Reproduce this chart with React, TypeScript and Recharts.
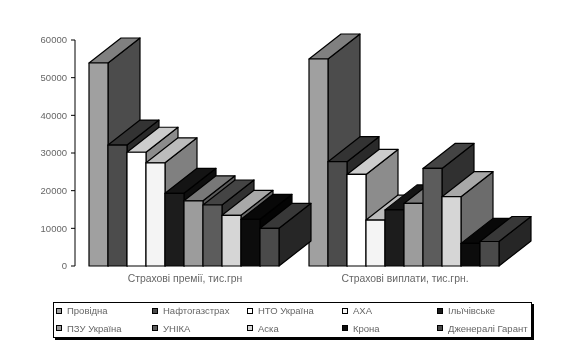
import React from 'react'
import { BarChart, Bar, XAxis, YAxis, Legend, Rectangle } from 'recharts'

const categories = ['Страхові премії, тис.грн', 'Страхові виплати, тис.грн.']
const yTicks = [0, 10000, 20000, 30000, 40000, 50000, 60000]

const companies = [
  'Провідна',
  'Нафтогазстрах',
  'НТО Україна',
  'АХА',
  'Ільїчівське',
  'ПЗУ Україна',
  'УНІКА',
  'Аска',
  'Крона',
  'Дженералі Гарант',
]

const premiums = [53900, 32100, 30200, 27400, 19300, 17300, 16200, 13450, 12400, 10000]
const payouts = [54950, 27700, 24300, 12200, 14900, 16600, 25900, 18400, 6000, 6500]

const frontColors = ['#a0a0a0', '#4c4c4c', '#ffffff', '#f4f4f4', '#1c1c1c', '#9c9c9c', '#5c5c5c', '#d6d6d6', '#0c0c0c', '#4a4a4a']
const topColors = ['#808080', '#333333', '#cccccc', '#bcbcbc', '#141414', '#787878', '#444444', '#a8a8a8', '#080808', '#383838']
const sideColors = ['#4c4c4c', '#2a2a2a', '#8c8c8c', '#808080', '#0e0e0e', '#5a5a5a', '#303030', '#6c6c6c', '#040404', '#262626']

const data = categories.map((name, i) => {
  const row: Record<string, string | number> = { name }
  companies.forEach((c, j) => {
    row[c] = i === 0 ? premiums[j] : payouts[j]
  })
  return row
})

const DEPTH_X = 32
const DEPTH_Y = 25
const FONT = 'Liberation Sans, Arial, sans-serif'

// recharts has no 3d bars, so extrude the front rectangle it hands us
function Bar3D(props: any) {
  const { x, y, width, height, colorIndex } = props
  const b = y + height
  const r = x + width
  return (
    <g stroke="#000" strokeWidth={1.2} strokeLinejoin="round">
      <polygon
        points={`${r},${y} ${r + DEPTH_X},${y - DEPTH_Y} ${r + DEPTH_X},${b - DEPTH_Y} ${r},${b}`}
        fill={sideColors[colorIndex]}
      />
      <polygon
        points={`${x},${y} ${x + DEPTH_X},${y - DEPTH_Y} ${r + DEPTH_X},${y - DEPTH_Y} ${r},${y}`}
        fill={topColors[colorIndex]}
      />
      <Rectangle x={x} y={y} width={width} height={height} fill={frontColors[colorIndex]} />
    </g>
  )
}

function ChartLegend() {
  return (
    <div
      style={{
        width: 479,
        height: 36,
        boxSizing: 'border-box',
        border: '1px solid #000',
        boxShadow: '2px 2px 0 #000',
        background: '#fff',
        display: 'grid',
        gridTemplateColumns: '96px 95px 95px 95px 96px',
        gridTemplateRows: '15px 20px',
        fontFamily: FONT,
        fontSize: 9.5,
        color: '#666',
        paddingLeft: 2,
      }}
    >
      {companies.map((c, i) => (
        <div key={c} style={{ display: 'flex', alignItems: 'center', whiteSpace: 'nowrap' }}>
          <span
            style={{
              width: 4,
              height: 4,
              border: '1px solid #000',
              background: frontColors[i],
              marginRight: 5,
              flexShrink: 0,
            }}
          />
          {c}
        </div>
      ))}
    </div>
  )
}

export default function App() {
  return (
    <div style={{ position: 'absolute', left: 0, top: 0, filter: 'blur(0.35px)' }}>
      <BarChart
        width={562}
        height={356}
        data={data}
        margin={{ top: 40, right: 47, bottom: 24, left: 30 }}
        barCategoryGap={14}
        barGap={0}
      >
        <XAxis
          dataKey="name"
          axisLine={false}
          tickLine={false}
          tickMargin={3}
          tick={{ fontSize: 10.4, fill: '#666', fontFamily: FONT }}
        />
        <YAxis
          domain={[0, 60000]}
          ticks={yTicks}
          width={45}
          tickSize={4}
          tickMargin={4}
          stroke="#000"
          tick={{ fontSize: 9.5, fill: '#666', fontFamily: FONT }}
        />
        <Legend
          content={<ChartLegend />}
          wrapperStyle={{ position: 'absolute', left: 53, top: 302, width: 481 }}
        />
        {companies.map((c, i) => (
          <Bar
            key={c}
            dataKey={c}
            isAnimationActive={false}
            shape={(p: any) => <Bar3D {...p} colorIndex={i} />}
          />
        ))}
      </BarChart>
    </div>
  )
}
